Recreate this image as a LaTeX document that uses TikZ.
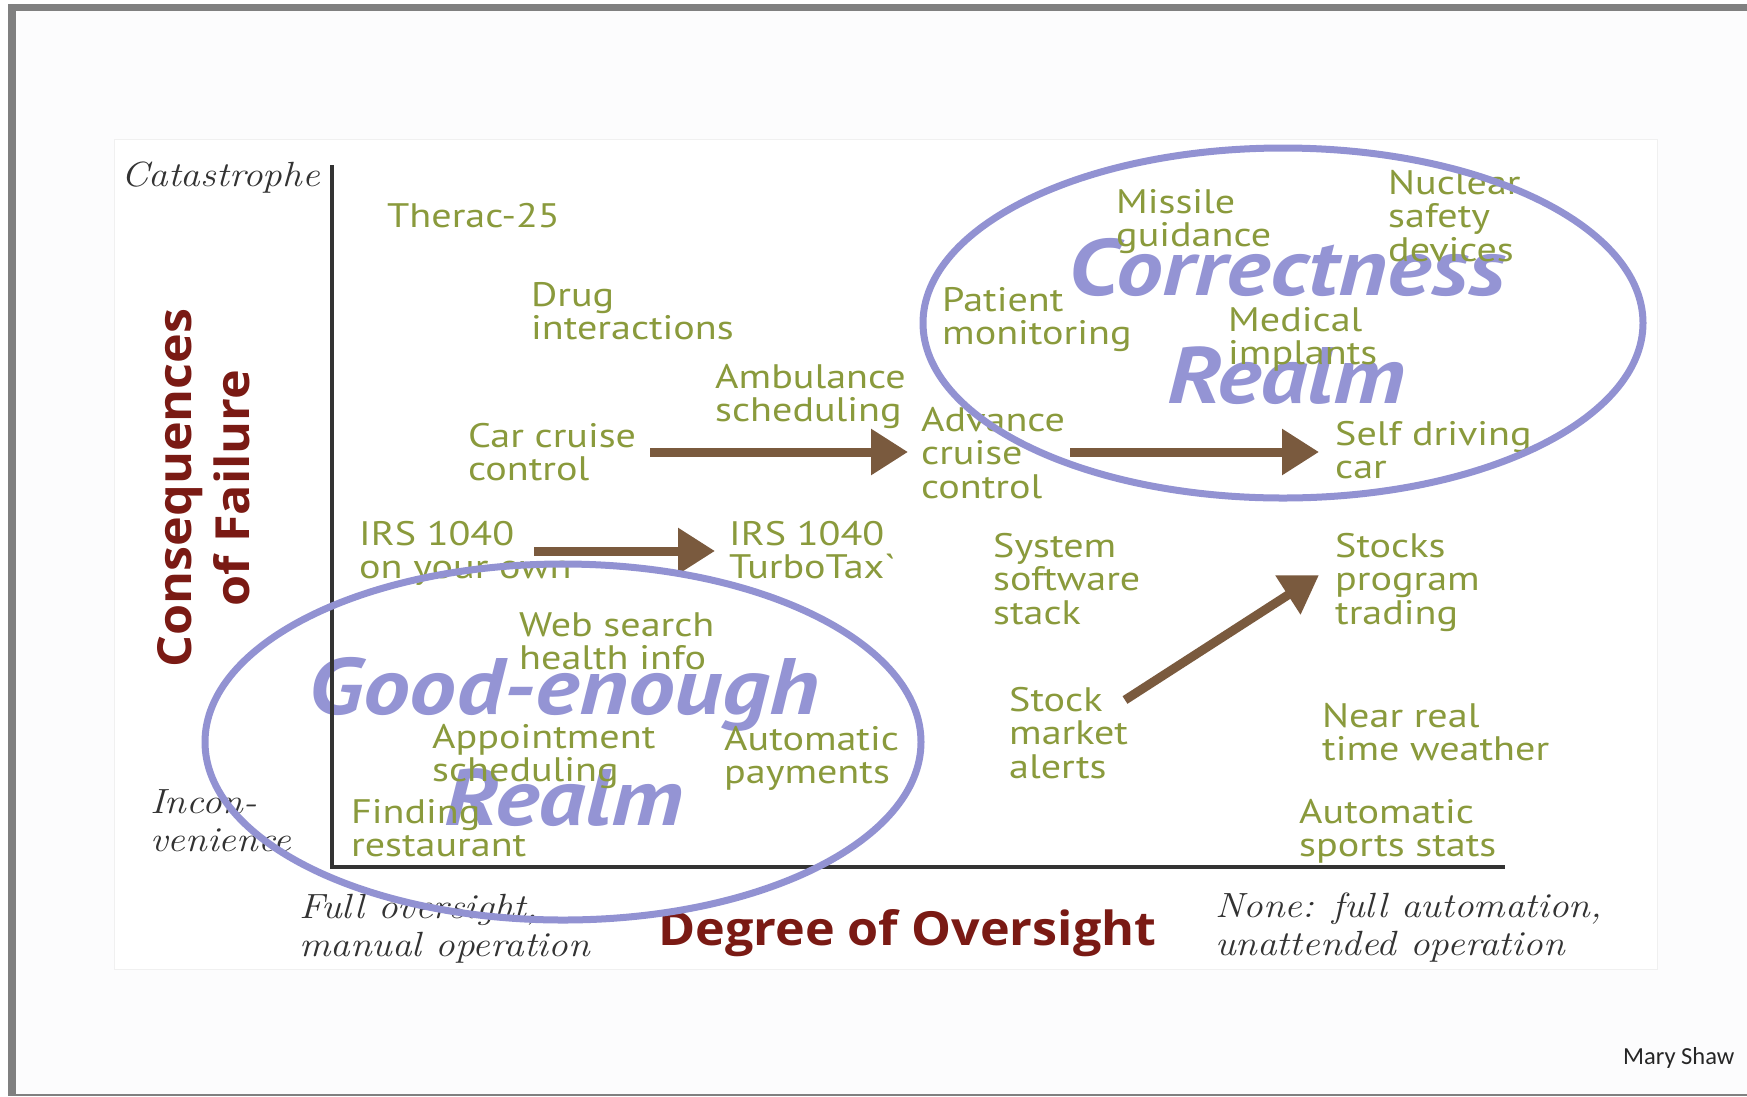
\documentclass[tikz,border=0pt]{standalone}
\usepackage{fontspec}
\usetikzlibrary{arrows.meta}

\newfontfamily\labelfont{PT Sans}[FakeStretch=1.18]
\newfontfamily\realmfont{PT Sans}[FakeStretch=1.17]
\newfontfamily\axisfont{Open Sans}[FakeStretch=1.07]
\newfontfamily\endfont{Latin Modern Roman}[FakeStretch=1.12]
\newfontfamily\creditfont{Carlito}

\definecolor{itemgreen}{RGB}{138,154,60}
\definecolor{realmblue}{RGB}{148,148,212}
\definecolor{ringblue}{RGB}{146,146,210}
\definecolor{pushbrown}{RGB}{122,90,62}
\definecolor{axisred}{RGB}{122,26,20}
\definecolor{framegray}{RGB}{128,128,128}
\definecolor{slidebg}{RGB}{252,252,253}

\begin{document}
\begin{tikzpicture}
	  [x=1pt,y=-1pt,every node/.style={inner sep=0pt},
	   item/.style={anchor=north west,align=left,text=itemgreen,
	     font=\labelfont\fontsize{34}{33.5}\selectfont},
	   realm/.style={anchor=base,text=realmblue,
	     font=\realmfont\bfseries\itshape\fontsize{80}{84}\selectfont},
	   endlabel/.style={anchor=north west,align=left,text=black!80,
	     font=\endfont\itshape\fontsize{35}{38}\selectfont},
	   axisname/.style={text=axisred,font=\axisfont\bfseries\fontsize{47}{58}\selectfont},
	   ring/.style={draw=ringblue,line width=7pt},
	   push/.style={draw=pushbrown,line width=9pt,-{Triangle[length=37pt,width=44pt]}}]
	\useasboundingbox (0,0) rectangle (1747,1096);
	\fill[white] (0,0) rectangle (1747,1096);
	\fill[framegray] (8,4) rectangle (1747,1096);
	\fill[slidebg] (16,11) rectangle (1747,1094);
	\filldraw[fill=white,draw=black!6,line width=1pt] (114,139) rectangle (1657,969);

	% the two realms
	\node[realm] (correct)  at (1287,295) {Correctness};
	\node[realm] (correct2) at (1286,403) {Realm};
	\node[realm] (good)     at (564,714)  {Good-enough};
	\node[realm] (good2)    at (564,825)  {Realm};

	% systems
	\node[item] (therac)     at (387,203)  {Therac-25};
	\node[item] (drugs)      at (531,282)  {Drug\\interactions};
	\node[item] (ambulance)  at (715,364)  {Ambulance\\scheduling};
	\node[item] (carcruise)  at (468,423)  {Car cruise\\control};
	\node[item] (advcruise)  at (921,407)  {Advance\\cruise\\control};
	\node[item] (selfdrive)  at (1335,421) {Self driving\\car};
	\node[item] (patient)    at (942,287)  {Patient\\monitoring};
	\node[item] (missile)    at (1116,189) {Missile\\guidance};
	\node[item] (nuclear)    at (1388,170) {Nuclear\\safety\\devices};
	\node[item] (implants)   at (1228,307) {Medical\\implants};
	\node[item] (irsown)     at (359,521)  {IRS 1040\\on your own};
	\node[item] (irsturbo)   at (729,521)  {IRS 1040\\TurboTax\textasciigrave};
	\node[item] (sysstack)   at (993,533)  {System\\software\\stack};
	\node[item] (progtrade)  at (1335,533) {Stocks\\program\\trading};
	\node[item] (stockalert) at (1009,687) {Stock\\market\\alerts};
	\node[item] (weather)    at (1322,703) {Near real\\time weather};
	\node[item] (sports)     at (1299,799) {Automatic\\sports stats};
	\node[item] (websearch)  at (519,612)  {Web search\\health info};
	\node[item] (appoint)    at (432,724)  {Appointment\\scheduling};
	\node[item] (autopay)    at (724,726)  {Automatic\\payments};
	\node[item] (restaurant) at (351,799)  {Finding\\restaurant};

	% axis ends
	\node[endlabel,anchor=base west] (catas) at (121,186) {Catastrophe};
	\node[endlabel] (incon)    at (150,789)  {Incon-\\venience};
	\node[endlabel] (fullover) at (299,894)  {Full oversight,\\manual operation};
	\node[endlabel] (noneover) at (1215,893) {None: full automation,\\unattended operation};

	\node[axisname,rotate=90,align=center] (failure) at (204,488) {Consequences\\of Failure};
	\node[axisname,anchor=base west] (oversight) at (658,945) {Degree of Oversight};
	\node[anchor=base west,text=black!85,font=\creditfont\fontsize{24.5}{24.5}\selectfont]
	  (credit) at (1623,1064) {Mary Shaw};

	\coordinate (ytop) at (332,165);
	\coordinate (origin) at (332,867);
	\coordinate (xend) at (1505,867);
	\draw[black!80,line width=4.5pt] (ytop) -- (origin) -- (xend);

	\draw[push] ([shift={(182,29)}]carcruise.north west) -- ([shift={(-13,45)}]advcruise.north west);
	\draw[push] ([shift={(149,45)}]advcruise.north west) -- ([shift={(-16,31)}]selfdrive.north west);
	\draw[push] ([shift={(175,30)}]irsown.north west) -- ([shift={(-14,30)}]irsturbo.north west);
	\draw[push] ([shift={(116,13)}]stockalert.north west) -- ([shift={(-16,42)}]progtrade.north west);

	\draw[ring] (1283,323) ellipse [x radius=360pt,y radius=175pt];
	\draw[ring] (563,742) ellipse [x radius=358pt,y radius=178pt];
	\end{tikzpicture}
\end{document}
